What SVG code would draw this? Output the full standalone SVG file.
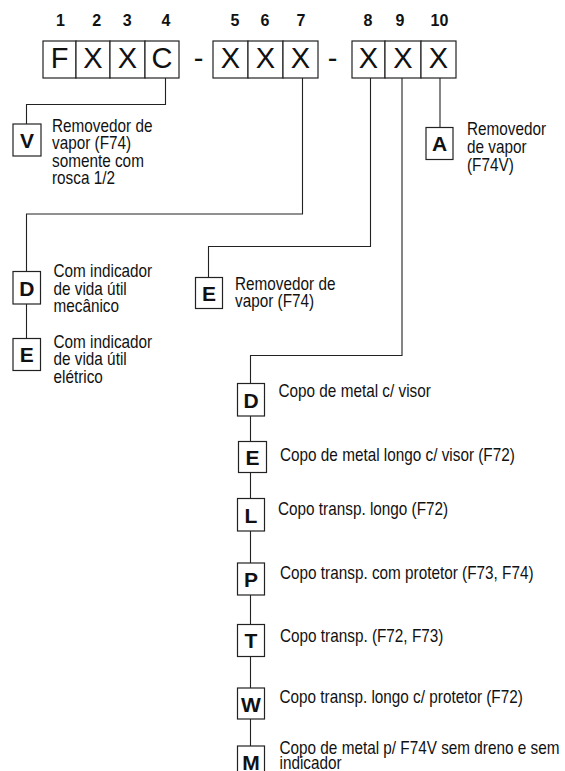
<svg xmlns="http://www.w3.org/2000/svg" width="565" height="771" viewBox="0 0 565 771">
<style>
.bx{fill:#fff;stroke:#222;stroke-width:1.2}
.cn{fill:none;stroke:#222;stroke-width:1.1}
.num{font-family:"Liberation Sans",Arial,sans-serif;font-weight:bold;font-size:16px;fill:#111;text-anchor:middle}
.big{font-family:"Liberation Sans",Arial,sans-serif;font-size:29px;fill:#111;text-anchor:middle}
.let{font-family:"Liberation Sans",Arial,sans-serif;font-weight:bold;font-size:21px;fill:#111;text-anchor:middle}
.d{font-family:"Liberation Sans",Arial,sans-serif;font-size:17.5px;fill:#111}
</style>
<rect width="565" height="771" fill="#fff"/>
<g id="code">
<g class="num">
<text x="60.5" y="26">1</text><text x="96.7" y="26">2</text><text x="127.3" y="26">3</text><text x="166" y="26">4</text>
<text x="235" y="26">5</text><text x="265" y="26">6</text><text x="301" y="26">7</text>
<text x="368" y="26">8</text><text x="400" y="26">9</text><text x="439.5" y="26">10</text>
</g>
<rect class="bx" x="43" y="41" width="33" height="37"/>
<rect class="bx" x="76" y="41" width="34" height="37"/>
<rect class="bx" x="110" y="41" width="35" height="37"/>
<rect class="bx" x="145" y="41" width="34" height="37"/>
<rect class="bx" x="213" y="41" width="35" height="37"/>
<rect class="bx" x="248" y="41" width="35" height="37"/>
<rect class="bx" x="283" y="41" width="35" height="37"/>
<rect class="bx" x="352" y="41" width="33" height="37"/>
<rect class="bx" x="385" y="41" width="36" height="37"/>
<rect class="bx" x="421" y="41" width="35" height="37"/>
<g class="big">
<text x="59.5" y="68">F</text><text x="93" y="68">X</text><text x="127.5" y="68">X</text><text x="162" y="68">C</text>
<text x="198.5" y="68">-</text>
<text x="230.5" y="68">X</text><text x="265.5" y="68">X</text><text x="300.5" y="68">X</text>
<text x="332.5" y="68">-</text>
<text x="368.5" y="68">X</text><text x="403" y="68">X</text><text x="438.5" y="68">X</text>
</g>
</g>
<g id="connectors">
<path class="cn" d="M165.5 78V104.5H26.5V124"/>
<path class="cn" d="M302.5 78V214H26.5V271.5"/>
<path class="cn" d="M26.5 304V338.5"/>
<path class="cn" d="M370.5 78V246.5H208.5V277.5"/>
<path class="cn" d="M440 78V127"/>
<path class="cn" d="M402 78V355.5H250.5V383.5M250.5 416V441.5M250.5 472.5V498.5M250.5 531V563M250.5 595V624.5M250.5 656.5V688M250.5 719V746"/>
</g>
<g id="opt-V">
<rect class="bx" x="13" y="124" width="28" height="32"/>
<text class="let" x="27" y="147.5">V</text>
<text class="d" transform="translate(52 132) scale(0.875 1)"><tspan x="0" y="0">Removedor de</tspan><tspan x="0" y="17.5">vapor (F74)</tspan><tspan x="0" y="35">somente com</tspan><tspan x="0" y="52.5">rosca 1/2</tspan></text>
</g>
<g id="opt-A">
<rect class="bx" x="426" y="127.5" width="27" height="32"/>
<text class="let" x="439.5" y="151">A</text>
<text class="d" transform="translate(467 135) scale(0.875 1)"><tspan x="0" y="0">Removedor</tspan><tspan x="0" y="18">de vapor</tspan><tspan x="0" y="36">(F74V)</tspan></text>
</g>
<g id="opt-D7">
<rect class="bx" x="13" y="271.5" width="27.5" height="32.5"/>
<text class="let" x="26.8" y="295.5">D</text>
<text class="d" transform="translate(53.5 277) scale(0.875 1)"><tspan x="0" y="0">Com indicador</tspan><tspan x="0" y="18">de vida útil</tspan><tspan x="0" y="35.5">mecânico</tspan></text>
</g>
<g id="opt-E7">
<rect class="bx" x="13" y="338.5" width="27.5" height="32"/>
<text class="let" x="26.8" y="362">E</text>
<text class="d" transform="translate(53.5 348) scale(0.875 1)"><tspan x="0" y="0">Com indicador</tspan><tspan x="0" y="17.5">de vida útil</tspan><tspan x="0" y="35">elétrico</tspan></text>
</g>
<g id="opt-E8">
<rect class="bx" x="195.5" y="277.5" width="27" height="31"/>
<text class="let" x="209" y="301">E</text>
<text class="d" transform="translate(235 290) scale(0.875 1)"><tspan x="0" y="0">Removedor de</tspan><tspan x="0" y="17.5">vapor (F74)</tspan></text>
</g>
<g id="opt-D9">
<rect class="bx" x="237.5" y="383.5" width="27" height="32.5"/>
<text class="let" x="251" y="407.5">D</text>
<text class="d" transform="translate(278.5 397) scale(0.875 1)">Copo de metal c/ visor</text>
</g>
<g id="opt-E9">
<rect class="bx" x="238.5" y="441.5" width="28" height="31"/>
<text class="let" x="252.5" y="465">E</text>
<text class="d" transform="translate(280 461) scale(0.875 1)">Copo de metal longo c/ visor (F72)</text>
</g>
<g id="opt-L9">
<rect class="bx" x="237.5" y="498.5" width="27" height="32.5"/>
<text class="let" x="251" y="522.5">L</text>
<text class="d" transform="translate(278 515) scale(0.875 1)">Copo transp. longo (F72)</text>
</g>
<g id="opt-P9">
<rect class="bx" x="237.5" y="563" width="27" height="32"/>
<text class="let" x="251" y="586.5">P</text>
<text class="d" transform="translate(280 578.5) scale(0.875 1)">Copo transp. com protetor (F73, F74)</text>
</g>
<g id="opt-T9">
<rect class="bx" x="237.5" y="624.5" width="27" height="32"/>
<text class="let" x="251" y="648">T</text>
<text class="d" transform="translate(280 642) scale(0.875 1)">Copo transp. (F72, F73)</text>
</g>
<g id="opt-W9">
<rect class="bx" x="237.5" y="688" width="27" height="31"/>
<text class="let" x="251" y="711.5">W</text>
<text class="d" transform="translate(279.5 703) scale(0.875 1)">Copo transp. longo c/ protetor (F72)</text>
</g>
<g id="opt-M9">
<rect class="bx" x="237.5" y="746" width="27" height="30"/>
<text class="let" x="251" y="769.5">M</text>
<text class="d" transform="translate(279.5 753.5) scale(0.875 1)"><tspan x="0" y="0">Copo de metal p/ F74V sem dreno e sem</tspan><tspan x="0" y="16">indicador</tspan></text>
</g>
</svg>
